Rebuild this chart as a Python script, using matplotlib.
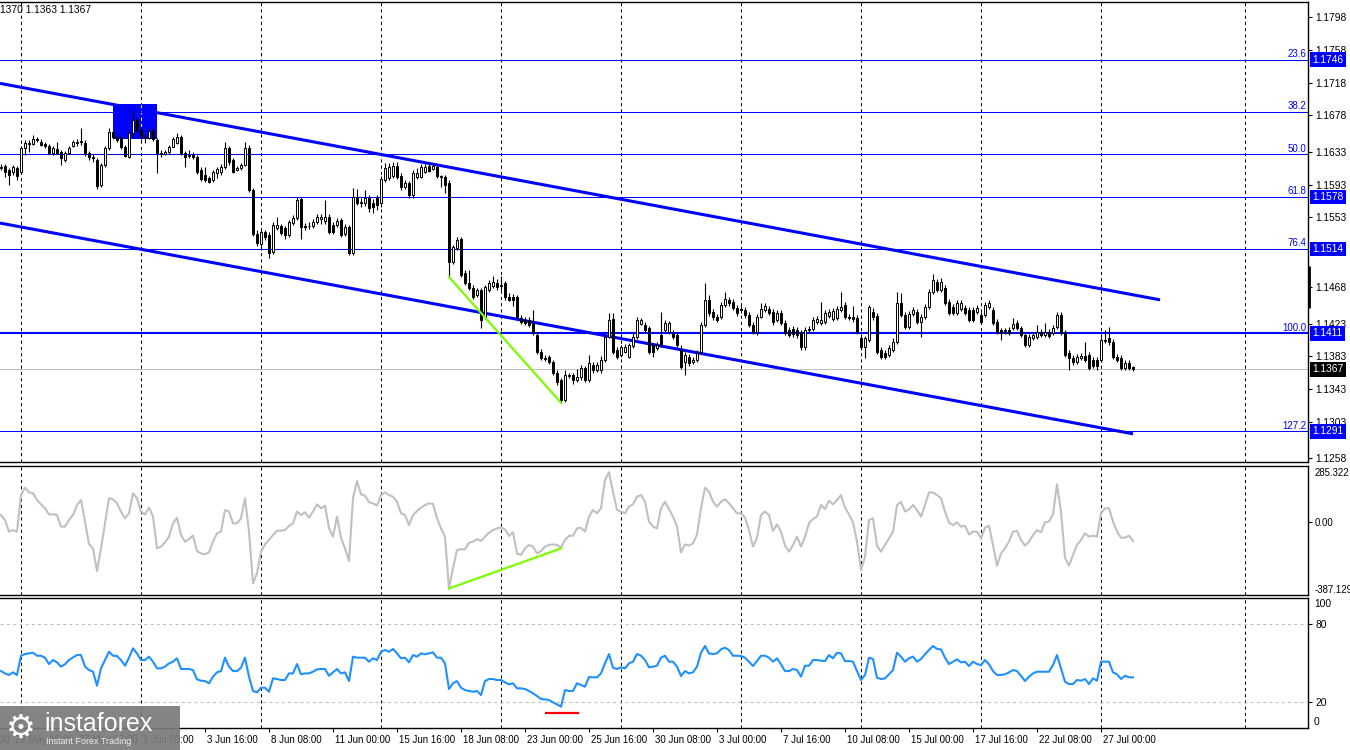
import numpy as np
import matplotlib
matplotlib.use("Agg")
import matplotlib.pyplot as plt
from matplotlib.patches import Rectangle

plt.rcParams["font.family"] = ["Liberation Sans", "DejaVu Sans"]

# H4 candles, quotes in 1e-4 price points (11615 -> 1.1615)
open_pt = [
    11615, 11616, 11611, 11608, 11613, 11608, 11638, 11644, 11643, 11649,
    11645, 11643, 11640, 11632, 11637, 11633, 11623, 11632, 11640, 11644,
    11645, 11644, 11632, 11627, 11623, 11593, 11617, 11638, 11657, 11651,
    11650, 11639, 11627, 11656, 11672, 11660, 11651, 11650, 11659, 11648,
    11632, 11631, 11633, 11639, 11644, 11651, 11632, 11628, 11629, 11627,
    11611, 11605, 11601, 11599, 11607, 11608, 11615, 11638, 11623, 11611,
    11613, 11617, 11638, 11586, 11533, 11520, 11535, 11531, 11510, 11540,
    11542, 11540, 11531, 11546, 11552, 11575, 11542, 11542, 11542, 11547,
    11551, 11548, 11554, 11544, 11544, 11550, 11533, 11541, 11509, 11578,
    11571, 11571, 11577, 11571, 11577, 11570, 11599, 11601, 11604, 11616,
    11604, 11590, 11595, 11580, 11602, 11602, 11608, 11616, 11612, 11615,
    11602, 11602, 11595, 11498, 11515, 11526, 11485, 11473, 11466, 11458,
    11464, 11431, 11464, 11469, 11473, 11469, 11473, 11455, 11455, 11455,
    11430, 11427, 11427, 11424, 11409, 11388, 11381, 11382, 11376, 11362,
    11354, 11329, 11360, 11360, 11354, 11358, 11368, 11354, 11372, 11366,
    11366, 11378, 11406, 11428, 11391, 11385, 11388, 11382, 11396, 11406,
    11422, 11421, 11418, 11397, 11393, 11409, 11415, 11413, 11411, 11409,
    11391, 11376, 11382, 11376, 11378, 11388, 11421, 11452, 11437, 11431,
    11431, 11446, 11452, 11449, 11442, 11441, 11440, 11433, 11421, 11413,
    11431, 11440, 11441, 11437, 11427, 11436, 11424, 11415, 11416, 11415,
    11411, 11394, 11416, 11416, 11425, 11424, 11425, 11432, 11429, 11430,
    11440, 11446, 11431, 11431, 11430, 11405, 11394, 11403, 11437, 11432,
    11391, 11387, 11385, 11391, 11400, 11448, 11433, 11419, 11435, 11437,
    11425, 11431, 11443, 11462, 11474, 11464, 11467, 11449, 11443, 11436,
    11441, 11442, 11440, 11440, 11437, 11433, 11433, 11443, 11440, 11425,
    11415, 11414, 11415, 11417, 11424, 11418, 11409, 11397, 11405, 11406,
    11413, 11409, 11413, 11411, 11419, 11433, 11411, 11387, 11381, 11376,
    11381, 11383, 11384, 11378, 11378, 11378, 11403, 11405, 11400, 11382,
    11381, 11369, 11375, 11370,
]
high_pt = [
    11618, 11618, 11613, 11617, 11616, 11640, 11648, 11648, 11654, 11651,
    11649, 11645, 11643, 11640, 11645, 11635, 11634, 11640, 11648, 11649,
    11662, 11648, 11634, 11630, 11626, 11619, 11640, 11662, 11660, 11654,
    11654, 11641, 11660, 11684, 11676, 11662, 11655, 11662, 11662, 11650,
    11635, 11635, 11641, 11651, 11656, 11654, 11634, 11635, 11633, 11629,
    11615, 11615, 11604, 11611, 11615, 11618, 11645, 11640, 11626, 11616,
    11619, 11645, 11641, 11589, 11538, 11538, 11538, 11535, 11547, 11553,
    11545, 11542, 11550, 11556, 11578, 11578, 11546, 11547, 11551, 11557,
    11557, 11574, 11557, 11547, 11552, 11552, 11545, 11544, 11589, 11588,
    11577, 11586, 11580, 11575, 11580, 11604, 11619, 11619, 11621, 11621,
    11607, 11599, 11597, 11611, 11613, 11618, 11618, 11619, 11619, 11617,
    11605, 11605, 11599, 11519, 11529, 11529, 11488, 11488, 11470, 11466,
    11466, 11470, 11476, 11481, 11477, 11481, 11475, 11460, 11459, 11458,
    11434, 11431, 11431, 11440, 11411, 11392, 11385, 11385, 11378, 11366,
    11356, 11366, 11362, 11363, 11367, 11372, 11371, 11384, 11376, 11376,
    11383, 11410, 11436, 11436, 11394, 11397, 11398, 11399, 11411, 11431,
    11430, 11425, 11420, 11399, 11400, 11437, 11427, 11426, 11415, 11411,
    11397, 11388, 11386, 11382, 11391, 11425, 11473, 11458, 11441, 11435,
    11449, 11462, 11455, 11453, 11446, 11445, 11443, 11437, 11425, 11435,
    11448, 11448, 11444, 11441, 11440, 11440, 11427, 11419, 11420, 11419,
    11415, 11419, 11420, 11431, 11432, 11449, 11440, 11441, 11442, 11444,
    11462, 11449, 11435, 11444, 11434, 11409, 11408, 11446, 11442, 11436,
    11394, 11391, 11397, 11405, 11462, 11460, 11437, 11438, 11443, 11441,
    11435, 11447, 11465, 11484, 11477, 11479, 11470, 11453, 11447, 11452,
    11452, 11446, 11443, 11443, 11446, 11437, 11449, 11452, 11443, 11429,
    11418, 11418, 11419, 11430, 11427, 11420, 11413, 11410, 11413, 11421,
    11416, 11424, 11416, 11421, 11437, 11437, 11415, 11391, 11385, 11386,
    11387, 11400, 11388, 11382, 11382, 11406, 11415, 11419, 11404, 11386,
    11384, 11378, 11378, 11371,
]
low_pt = [
    11611, 11602, 11593, 11605, 11599, 11606, 11629, 11633, 11642, 11645,
    11640, 11638, 11630, 11629, 11630, 11617, 11621, 11630, 11639, 11640,
    11641, 11628, 11623, 11621, 11588, 11590, 11615, 11635, 11649, 11645,
    11637, 11627, 11626, 11650, 11657, 11648, 11644, 11649, 11646, 11607,
    11627, 11629, 11630, 11639, 11643, 11629, 11615, 11626, 11624, 11606,
    11597, 11596, 11595, 11596, 11601, 11605, 11612, 11617, 11607, 11610,
    11611, 11616, 11584, 11530, 11518, 11513, 11525, 11503, 11508, 11537,
    11531, 11527, 11529, 11544, 11550, 11527, 11538, 11539, 11540, 11545,
    11545, 11545, 11533, 11533, 11541, 11529, 11530, 11507, 11507, 11568,
    11566, 11567, 11559, 11558, 11562, 11566, 11596, 11599, 11601, 11600,
    11586, 11588, 11577, 11577, 11600, 11601, 11607, 11608, 11611, 11601,
    11590, 11583, 11480, 11496, 11513, 11480, 11470, 11464, 11453, 11455,
    11417, 11429, 11461, 11466, 11464, 11464, 11452, 11451, 11445, 11429,
    11422, 11421, 11419, 11409, 11386, 11378, 11377, 11374, 11360, 11348,
    11326, 11327, 11356, 11349, 11352, 11354, 11352, 11352, 11362, 11364,
    11362, 11376, 11405, 11386, 11380, 11382, 11387, 11381, 11393, 11404,
    11421, 11413, 11386, 11382, 11391, 11394, 11413, 11410, 11404, 11394,
    11367, 11360, 11371, 11373, 11376, 11386, 11419, 11432, 11427, 11425,
    11429, 11443, 11444, 11440, 11432, 11436, 11430, 11419, 11410, 11409,
    11430, 11437, 11434, 11421, 11425, 11421, 11409, 11406, 11407, 11405,
    11391, 11391, 11413, 11414, 11422, 11421, 11422, 11430, 11426, 11427,
    11437, 11429, 11427, 11425, 11410, 11391, 11381, 11400, 11427, 11386,
    11380, 11380, 11382, 11388, 11398, 11431, 11416, 11416, 11432, 11422,
    11406, 11429, 11441, 11459, 11462, 11462, 11446, 11433, 11433, 11433,
    11438, 11433, 11425, 11425, 11435, 11422, 11431, 11441, 11421, 11410,
    11403, 11410, 11409, 11415, 11415, 11406, 11394, 11394, 11403, 11404,
    11406, 11406, 11405, 11409, 11416, 11409, 11382, 11366, 11372, 11373,
    11378, 11376, 11366, 11369, 11366, 11376, 11399, 11397, 11380, 11376,
    11366, 11366, 11366, 11365,
]
close_pt = [
    11614, 11608, 11605, 11615, 11604, 11638, 11644, 11643, 11649, 11648,
    11641, 11640, 11632, 11638, 11632, 11626, 11632, 11638, 11645, 11645,
    11646, 11632, 11627, 11626, 11591, 11617, 11638, 11657, 11651, 11648,
    11639, 11628, 11656, 11672, 11660, 11651, 11650, 11659, 11649, 11632,
    11631, 11633, 11639, 11649, 11651, 11632, 11627, 11629, 11627, 11608,
    11600, 11599, 11596, 11608, 11612, 11615, 11638, 11621, 11608, 11613,
    11617, 11638, 11586, 11533, 11522, 11535, 11529, 11509, 11544, 11544,
    11534, 11531, 11547, 11552, 11574, 11541, 11541, 11542, 11547, 11553,
    11554, 11553, 11535, 11535, 11549, 11531, 11541, 11509, 11578, 11570,
    11571, 11577, 11564, 11566, 11568, 11600, 11613, 11615, 11616, 11602,
    11590, 11595, 11580, 11607, 11607, 11615, 11615, 11610, 11616, 11604,
    11603, 11593, 11498, 11517, 11525, 11482, 11473, 11466, 11455, 11464,
    11427, 11468, 11473, 11474, 11468, 11470, 11455, 11452, 11452, 11431,
    11425, 11424, 11421, 11411, 11388, 11381, 11380, 11376, 11362, 11351,
    11329, 11360, 11359, 11354, 11358, 11368, 11354, 11375, 11366, 11372,
    11378, 11406, 11427, 11388, 11382, 11394, 11394, 11397, 11406, 11427,
    11427, 11415, 11388, 11388, 11397, 11397, 11424, 11424, 11406, 11397,
    11370, 11385, 11375, 11378, 11387, 11421, 11452, 11436, 11431, 11427,
    11446, 11453, 11448, 11442, 11436, 11440, 11433, 11421, 11413, 11431,
    11441, 11445, 11436, 11425, 11436, 11424, 11411, 11409, 11410, 11409,
    11394, 11415, 11415, 11427, 11429, 11427, 11436, 11437, 11438, 11441,
    11443, 11431, 11430, 11429, 11413, 11394, 11405, 11443, 11431, 11388,
    11382, 11382, 11393, 11400, 11448, 11433, 11419, 11435, 11440, 11425,
    11431, 11443, 11462, 11476, 11464, 11474, 11448, 11436, 11436, 11448,
    11448, 11436, 11427, 11427, 11442, 11425, 11446, 11448, 11424, 11413,
    11411, 11415, 11411, 11422, 11418, 11409, 11397, 11406, 11409, 11413,
    11409, 11413, 11408, 11418, 11433, 11411, 11385, 11381, 11376, 11382,
    11383, 11378, 11369, 11371, 11371, 11403, 11402, 11400, 11382, 11378,
    11369, 11375, 11369, 11367,
]

# CCI sub-window
cci = [
    38, 9, -58, -49, -58, 154, 196, 169, 164, 125,
    100, 77, 42, 42, 38, -29, -29, 9, 38, 96,
    125, 0, -130, -155, -286, -155, -10, 135, 129, 106,
    58, 19, 48, 164, 135, 58, 42, 81, 29, -155,
    -145, -120, -87, -10, 23, -78, -116, -101, -81, -170,
    -184, -189, -178, -116, -68, -58, 67, 58, -10, -10,
    19, 135, -58, -357, -299, -174, -132, -106, -78, -52,
    -52, -49, -25, -10, 58, 38, 54, 23, 58, 100,
    77, 92, -39, -87, 29, -93, -155, -228, 135, 235,
    158, 150, 112, 106, 92, 154, 169, 154, 144, 115,
    48, 38, -20, 38, 61, 81, 96, 106, 102, 19,
    -39, -87, -387.129, -270, -164, -160, -160, -122, -116, -101,
    -112, -87, -64, -49, -39, -33, -45, -83, -62, -184,
    -193, -155, -135, -145, -184, -170, -145, -135, -132, -135,
    -150, -106, -83, -81, -39, -35, -58, 29, 67, 48,
    77, 241, 285.322, 173, 67, 58, 48, 87, 100, 144,
    154, 115, 0, -29, -39, 77, 115, 73, 29, -29,
    -178, -132, -139, -126, -74, 77, 196, 173, 115, 87,
    115, 129, 106, 77, 48, 48, 23, -49, -145, -93,
    38, 58, 38, -54, -16, -58, -139, -174, -135, -87,
    -145, -87, -10, 15, 29, 96, 73, 121, 100, 125,
    154, 81, 42, -4, -116, -280, -203, 9, 19, -139,
    -174, -135, -97, -58, 96, 115, 58, 71, 96, 67,
    29, 96, 169, 169, 154, 135, 58, -6, -20, -4,
    -29, -24, -74, -58, -58, -97, -35, -24, -135, -255,
    -184, -155, -116, -58, -54, -106, -139, -116, -78, -49,
    -62, -4, 0, 42, 216, 58, -209, -255, -193, -135,
    -106, -68, -87, -81, -87, 48, 77, 77, 0, -58,
    -93, -93, -81, -112,
]

# 0-100 oscillator sub-window
osc = [
    44.0, 42.2, 41.0, 43.0, 41.0, 55.8, 57.1, 57.6, 58.1, 55.8,
    55.8, 54.3, 49.4, 52.5, 50.7, 47.4, 49.2, 52.5, 54.5, 56.3,
    56.3, 47.4, 44.8, 43.5, 32.8, 46.1, 52.5, 58.9, 55.8, 55.6,
    52.5, 48.1, 54.3, 61.5, 57.6, 52.5, 52.5, 55.1, 51.2, 46.1,
    46.1, 47.4, 49.9, 51.2, 53.8, 45.6, 45.6, 45.6, 44.8, 37.6,
    36.6, 36.3, 34.6, 39.7, 43.0, 44.0, 54.3, 47.4, 44.0, 44.0,
    46.6, 54.3, 39.7, 28.7, 27.6, 31.2, 31.2, 28.1, 38.4, 37.9,
    37.1, 37.1, 42.2, 42.2, 49.4, 41.5, 42.2, 42.2, 43.5, 45.3,
    45.6, 45.6, 40.4, 43.0, 45.6, 42.2, 43.0, 36.3, 55.1, 54.3,
    54.3, 54.3, 51.2, 53.8, 52.5, 58.9, 60.2, 58.9, 61.0, 57.6,
    53.8, 54.3, 50.7, 56.3, 55.1, 57.6, 56.9, 57.6, 58.4, 54.3,
    54.3, 49.9, 30.2, 34.6, 36.3, 31.2, 29.4, 28.7, 28.1, 28.7,
    25.6, 36.3, 37.9, 37.9, 37.1, 37.1, 35.3, 33.8, 34.6, 30.7,
    30.7, 30.2, 28.7, 26.9, 24.8, 22.5, 22.2, 21.7, 19.9, 18.4,
    16.6, 29.4, 28.7, 28.7, 34.6, 33.3, 32.0, 39.4, 39.2, 39.2,
    42.2, 49.9, 57.1, 46.6, 45.6, 46.9, 46.1, 49.9, 51.2, 57.1,
    55.8, 52.5, 46.9, 47.4, 48.1, 54.3, 55.8, 51.2, 51.2, 47.4,
    40.2, 44.0, 42.2, 43.0, 47.4, 58.1, 63.3, 57.6, 57.1, 57.6,
    60.7, 62.0, 60.2, 55.8, 55.8, 55.6, 54.3, 51.2, 47.9, 51.7,
    55.8, 55.8, 54.3, 51.2, 53.8, 49.2, 44.0, 44.0, 45.6, 44.8,
    39.7, 48.1, 48.1, 52.5, 52.5, 52.0, 51.7, 56.3, 53.8, 58.1,
    57.6, 51.7, 51.7, 51.2, 44.0, 37.1, 41.0, 54.3, 53.3, 38.9,
    37.9, 38.4, 41.5, 44.8, 58.1, 55.1, 51.2, 53.8, 55.1, 51.2,
    53.3, 56.9, 60.2, 63.3, 61.0, 60.7, 54.3, 49.4, 51.2, 53.0,
    50.7, 51.2, 47.9, 51.2, 49.4, 48.6, 52.5, 49.2, 44.0, 41.0,
    41.0, 41.5, 43.0, 44.8, 44.0, 40.4, 36.3, 39.7, 42.2, 43.5,
    43.5, 43.5, 43.5, 48.7, 56.3, 46.1, 35.8, 34.0, 34.0, 37.1,
    36.6, 37.9, 34.0, 38.4, 36.6, 51.2, 51.2, 51.2, 43.0, 41.5,
    37.9, 40.4, 39.2, 39.2,
]

# time axis: bar index of each label
label_bars = [-13, 3, 19, 35, 51, 67, 83, 99, 115, 131, 147, 163, 179, 195, 211, 227, 243, 259, 275]
label_text = ["20 May 00:00", "22 May 16:00", "27 May 08:00", "1 Jun 00:00", "3 Jun 16:00",
              "8 Jun 08:00", "11 Jun 00:00", "15 Jun 16:00", "18 Jun 08:00", "23 Jun 00:00",
              "25 Jun 16:00", "30 Jun 08:00", "3 Jul 00:00", "7 Jul 16:00", "10 Jul 08:00",
              "15 Jul 00:00", "17 Jul 16:00", "22 Jul 08:00", "27 Jul 00:00"]
grid_bars = [5, 35, 65, 95, 125, 155, 185, 215, 245, 275, 311]
header = "1370 1.1363 1.1367"

# fibo grid and drawn objects
fib_names = ["23.6", "38.2", "50.0", "61.8", "76.4", "100.0", "127.2"]
fib_prices = [1.1746, 1.1682, 1.1630, 1.1578, 1.1514, 1.1411, 1.1291]
box_prices = [1.1746, 1.1578, 1.1514, 1.1411, 1.1291]
price_ticks = [1.1798, 1.1758, 1.1718, 1.1678, 1.1633, 1.1593, 1.1553,
               1.1468, 1.1423, 1.1383, 1.1343, 1.1303, 1.1258]
upper_line = ([-0.25, 289.75], [1.1717, 1.1452])
lower_line = ([-0.25, 283.0], [1.1546, 1.1288])
zone_bars = (28, 39)
zone_prices = (1.1649, 1.1692)
div_bars = (112, 140)
cci_div = (-387.129, -155)
red_mark = ((136.25, 144.25), 11.5)
axis_mark = (1.1442, 1.1493)

W, H = 1350, 750
BLUE = "#0000FF"
FS = 7
FS_AX = 7.4

o = np.array(open_pt) / 1e4
h = np.array(high_pt) / 1e4
l = np.array(low_pt) / 1e4
c = np.array(close_pt) / 1e4
idx = np.arange(len(c))


def px_axes(fig, x0, y0, x1, y1):
    return fig.add_axes([x0 / W, 1 - y1 / H, (x1 - x0) / W, (y1 - y0) / H])


fig = plt.figure(figsize=(W / 100, H / 100), dpi=100)
fig.patch.set_facecolor("white")
ax = px_axes(fig, 0, 2, 1308, 462)
ax_cci = px_axes(fig, 0, 466, 1308, 595)
ax_osc = px_axes(fig, 0, 597.5, 1308, 728)

for a in (ax, ax_cci, ax_osc):
    a.set_xlim(-0.25, 326.75)
    a.spines["left"].set_visible(False)
    for s in ("top", "right", "bottom"):
        a.spines[s].set_linewidth(1.0)
        a.spines[s].set_color("black")
    a.yaxis.tick_right()
    a.tick_params(axis="y", direction="out", length=3, width=0.8, labelsize=FS_AX, pad=2.5)
    a.tick_params(axis="x", length=0, labelbottom=False)
    for g in grid_bars:
        a.axvline(g, color="black", lw=0.75, ls=(0, (3, 3)), zorder=0.5)

# ---- main price window
ax.set_ylim(1.12535, 1.18166)
ax.set_yticks(price_ticks)
ax.set_yticklabels([f"{p:.4f}" for p in price_ticks])

ax.add_patch(Rectangle((zone_bars[0], zone_prices[0]), zone_bars[1] - zone_bars[0],
                       zone_prices[1] - zone_prices[0], fc=BLUE, ec="none", zorder=1))
ax.vlines(35, zone_prices[0], zone_prices[1], color="yellow", lw=0.75, ls=(0, (3, 3)), zorder=1.5)

for name, p in zip(fib_names, fib_prices):
    ax.axhline(p, color=BLUE, lw=1.5 if name == "100.0" else 0.75, zorder=2)
    ax.text(0.9985, p + 0.0001, name, transform=ax.get_yaxis_transform(), ha="right",
            va="bottom", color=BLUE, fontsize=FS, zorder=6)

ax.axhline(c[-1], color="#C0C0C0", lw=0.75, zorder=1.8)
ax.plot(*upper_line, color=BLUE, lw=2.2, zorder=2.5, solid_capstyle="butt")
ax.plot(*lower_line, color=BLUE, lw=2.2, zorder=2.5, solid_capstyle="butt")

up = c >= o
ax.vlines(idx, l, h, color="black", lw=0.8, zorder=3)
ax.bar(idx, np.maximum(np.abs(c - o), 0.00002), bottom=np.minimum(o, c), width=0.6,
       color=np.where(up, "white", "black"), edgecolor="black", linewidth=0.7, zorder=4)

ax.plot(div_bars, [l[div_bars[0]], l[div_bars[1]]], color="#7CFC00", lw=1.6, zorder=5)

trans = ax.get_yaxis_transform()
for p in box_prices:
    ax.text(1.0035, p, f"{p:.4f}", transform=trans, ha="left", va="center", color="white",
            fontsize=FS_AX, clip_on=False, zorder=10,
            bbox=dict(boxstyle="square,pad=0.22", fc=BLUE, ec="none"))
ax.text(1.0035, c[-1], f"{c[-1]:.4f}", transform=trans, ha="left", va="center", color="white",
        fontsize=FS_AX, clip_on=False, zorder=10,
        bbox=dict(boxstyle="square,pad=0.22", fc="black", ec="none"))
ax.plot([1.0008, 1.0008], axis_mark, transform=trans, color="black", lw=2.0, clip_on=False,
        zorder=9, solid_capstyle="butt")

ax.text(0.0, 0.983, header, transform=ax.transAxes, ha="left", va="center",
        fontsize=FS_AX, color="black")

# ---- CCI window
ax_cci.plot(idx, cci, color="#C0C0C0", lw=1.5, zorder=3)
ax_cci.plot(div_bars, cci_div, color="#7CFC00", lw=1.6, zorder=4)
ax_cci.set_ylim(-424.7, 321.8)
cmin, cmax = min(cci), max(cci)
ax_cci.set_yticks([cmin, 0, cmax])
ax_cci.set_yticklabels([f"{cmin:.3f}", "0.00", f"{cmax:.3f}"])
ax_cci.tick_params(axis="y", labelsize=6.9, pad=2)
ticks = ax_cci.yaxis.get_major_ticks()
ticks[0].tick2line.set_visible(False)
ticks[2].tick2line.set_visible(False)

# ---- oscillator window
ax_osc.plot(idx, osc, color="#1E90FF", lw=1.5, zorder=3)
for lev in (20, 80):
    ax_osc.axhline(lev, color="#C0C0C0", lw=0.75, ls=(0, (3, 3)), zorder=1)
ax_osc.plot(red_mark[0], [red_mark[1]] * 2, color="red", lw=1.6, zorder=4)
ax_osc.set_ylim(0.2, 100.6)
ax_osc.set_yticks([20, 80])
ax_osc.set_yticklabels(["20", "80"])
otrans = ax_osc.get_yaxis_transform()
ax_osc.text(1.0045, 95.5, "100", transform=otrans, ha="left", va="center", fontsize=FS_AX, clip_on=False)
ax_osc.text(1.0045, 4.8, "0", transform=otrans, ha="left", va="center", fontsize=FS_AX, clip_on=False)

ax_osc.set_xticks([b for b in label_bars if b >= 0])
ax_osc.tick_params(axis="x", length=3, width=0.8, direction="out", labelbottom=False)
xtrans = ax_osc.get_xaxis_transform()
for b, t in zip(label_bars, label_text):
    ax_osc.text(b + 0.4, -0.092, t, transform=xtrans, ha="left", va="center",
                fontsize=FS, clip_on=False)

# ---- watermark
fig.patches.append(Rectangle((0, 0), 180 / W, 44 / H, transform=fig.transFigure,
                             fc="#7a7a7a", ec="none", alpha=0.92, zorder=20))
fig.text(6 / W, 22 / H, "\u2699", color="white", fontsize=24, ha="left", va="center",
         family="DejaVu Sans", zorder=21)
fig.text(44 / W, 26 / H, "instaforex", color="white", fontsize=18, ha="left", va="center", zorder=21)
fig.text(46 / W, 8 / H, "Instant Forex Trading", color="#eeeeee", fontsize=6.5, ha="left",
         va="center", zorder=21)

fig.savefig("out.png", dpi=100, facecolor="white")
